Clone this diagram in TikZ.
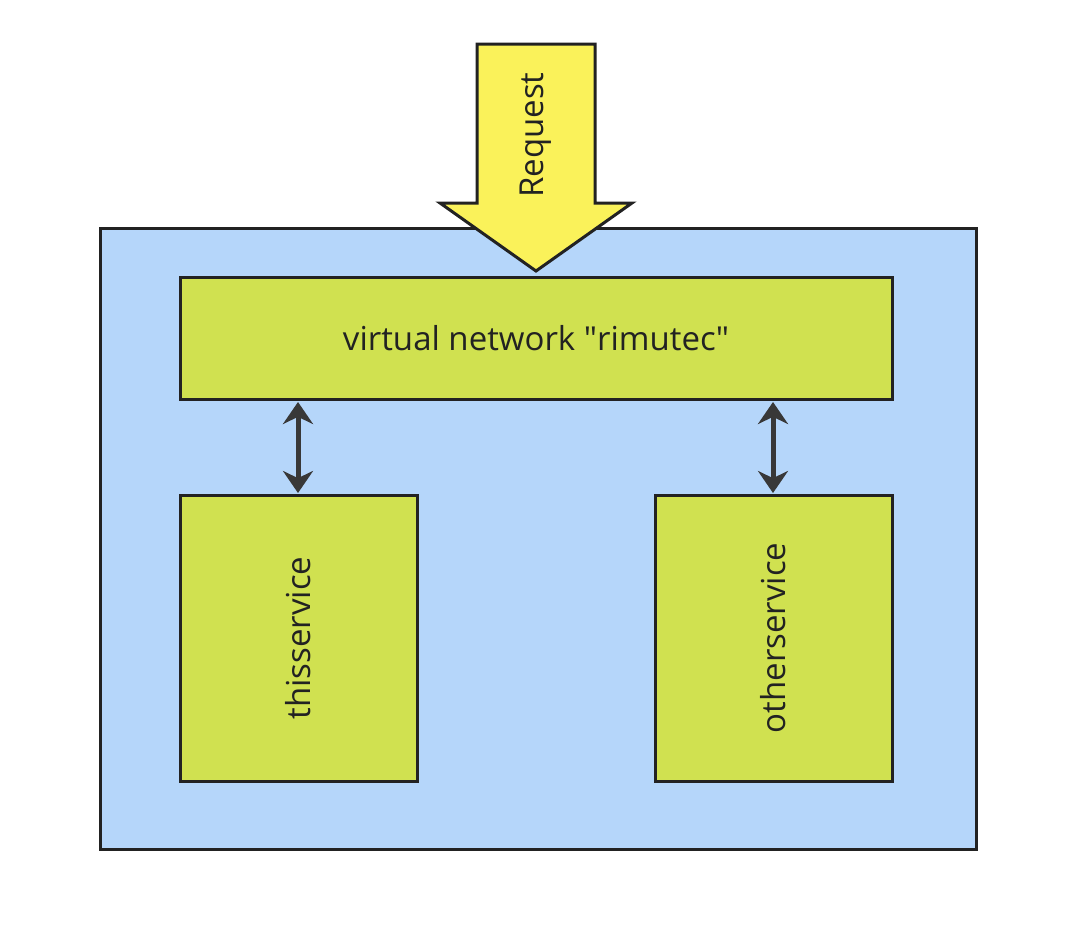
\documentclass[tikz,border=0pt]{standalone}
\usepackage{fontspec}
\setmainfont{Open Sans}
\usetikzlibrary{arrows.meta}
\definecolor{bluebg}{HTML}{B5D6FA}
\definecolor{greenbox}{HTML}{D0E150}
\definecolor{yellowarr}{HTML}{FAF25A}
\definecolor{edge}{HTML}{222222}
\tikzset{
  lbl/.style={font=\fontsize{33}{38}\selectfont, text=edge},
  gbox/.style={draw=edge, line width=3pt, fill=greenbox, inner sep=0pt, lbl},
  link/.style={draw=edge!90, line width=5pt, {Stealth[length=22pt,width=30pt]}-{Stealth[length=22pt,width=30pt]}}
}
\begin{document}
\begin{tikzpicture}[x=1pt,y=-1pt]
\useasboundingbox (0,0) rectangle (1072,932);
\draw[edge, line width=3pt, fill=bluebg] (100,228) rectangle (976,849);
\node[gbox, minimum width=712pt, minimum height=122pt] (net) at (536,338) {virtual network \textquotedbl rimutec\textquotedbl};
\node[gbox, minimum width=237pt, minimum height=286pt] (this) at (298.5,638) {};
\node[rotate=90, lbl] (thist) at (this.center) {thisservice};
\node[gbox, minimum width=237pt, minimum height=286pt] (other) at (773.5,638) {};
\node[rotate=90, lbl] (othert) at (other.center) {otherservice};
\draw[link] (298,402) -- (298,493);
\draw[link] (773,402) -- (773,493);
\draw[edge, line width=3pt, fill=yellowarr, line join=miter] (477,44) -- (595,44) -- (595,203) -- (632,203) -- (536,271) -- (440,203) -- (477,203) -- cycle;
\node[rotate=90, lbl] (req) at (536,135) {Request};
\end{tikzpicture}
\end{document}
